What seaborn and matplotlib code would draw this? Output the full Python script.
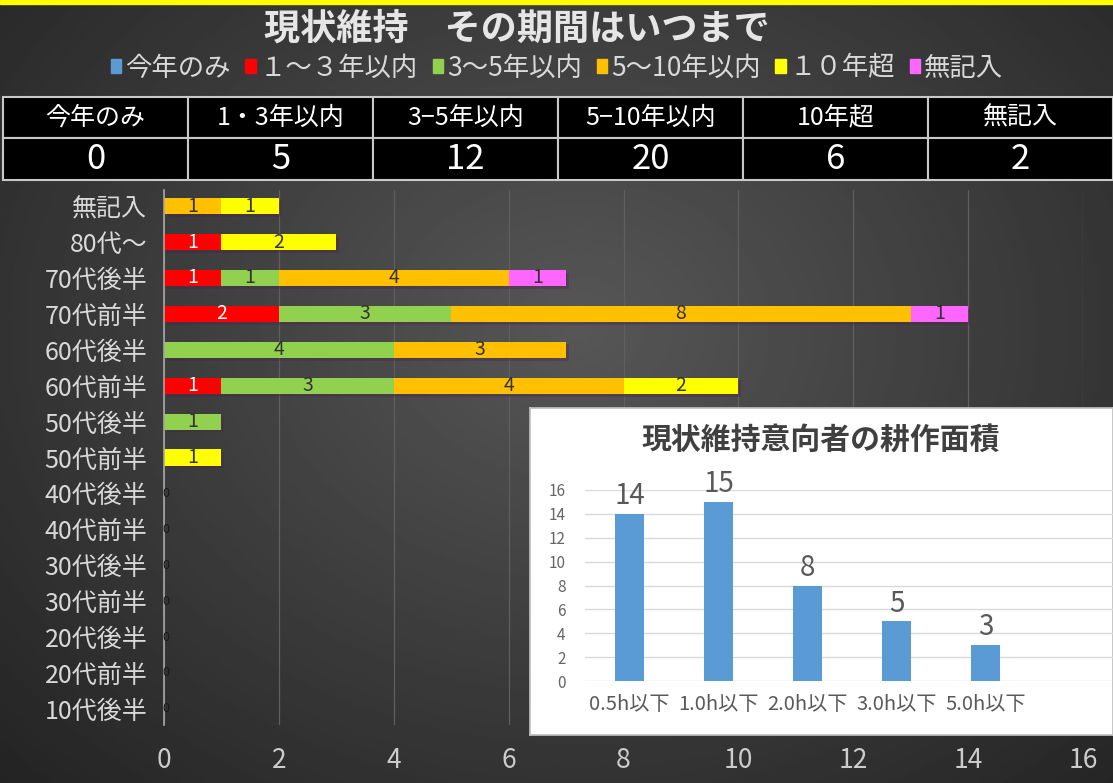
import numpy as np
import pandas as pd
import matplotlib
matplotlib.use("Agg")
import matplotlib.pyplot as plt
import matplotlib.patheffects as pe
from matplotlib.patches import Rectangle
import seaborn as sns

sns.set_theme(style="dark")
plt.rcParams['font.family'] = ['Noto Sans CJK JP', 'DejaVu Sans']

# ── Data ──────────────────────────────────────────────────────
ages = ["無記入", "80代～", "70代後半", "70代前半", "60代後半", "60代前半",
        "50代後半", "50代前半", "40代後半", "40代前半", "30代後半", "30代前半",
        "20代後半", "20代前半", "10代後半"]
series_names = ["今年のみ", "１～３年以内", "3～5年以内", "5～10年以内", "１０年超", "無記入"]
this_year = [0, 0, 0, 0, 0, 0, 0, 0, 0, 0, 0, 0, 0, 0, 0]
within_1_3 = [0, 1, 1, 2, 0, 1, 0, 0, 0, 0, 0, 0, 0, 0, 0]
within_3_5 = [0, 0, 1, 3, 4, 3, 1, 0, 0, 0, 0, 0, 0, 0, 0]
within_5_10 = [1, 0, 4, 8, 3, 4, 0, 0, 0, 0, 0, 0, 0, 0, 0]
over_10 = [1, 2, 0, 0, 0, 2, 0, 1, 0, 0, 0, 0, 0, 0, 0]
no_answer = [0, 0, 1, 1, 0, 0, 0, 0, 0, 0, 0, 0, 0, 0, 0]
series_colors = ["#5B9BD5", "#FF0000", "#92D050", "#FFC000", "#FFFF00", "#FF66FF"]

table_heads = ["今年のみ", "1・3年以内", "3−5年以内", "5−10年以内", "10年超", "無記入"]
table_vals = ["0", "5", "12", "20", "6", "2"]

area_labels = ["0.5h以下", "1.0h以下", "2.0h以下", "3.0h以下", "5.0h以下"]
area_counts = [14, 15, 8, 5, 3]

W, H = 1113, 783
fig = plt.figure(figsize=(W / 100, H / 100), dpi=100)

# ── Background gradient ───────────────────────────────────────
bg = fig.add_axes([0, 0, 1, 1], zorder=-10)
yy, xx = np.mgrid[0:1:300j, 0:1:400j]
r = np.sqrt(((xx - 0.52) / 0.62) ** 2 + ((yy - 0.42) / 0.7) ** 2)
shade = np.clip(0.34 - 0.17 * r, 0.13, 1)
bg.imshow(shade, cmap="gray", vmin=0, vmax=1, aspect="auto", extent=[0, 1, 0, 1])
bg.set_axis_off()
fig.patches.append(Rectangle((0, 1 - 4 / H), 1, 4 / H, transform=fig.transFigure,
                             color="#FFFF00", zorder=20))

# ── Main stacked bar chart ────────────────────────────────────
df = pd.DataFrame({"age": ages})
cols = [this_year, within_1_3, within_3_5, within_5_10, over_10, no_answer]
cum = np.cumsum(np.array(cols), axis=0)
for i, name in enumerate(series_names):
    df[name] = cum[i]

ax = fig.add_axes([164 / W, 1 - 725 / H, (1083 - 164) / W, (725 - 190) / H])
ax.set_facecolor("none")
# cumulative totals drawn longest first, so shorter segments sit on top
for i in reversed(range(len(series_names))):
    sns.barplot(data=df, y="age", x=series_names[i], color=series_colors[i],
                saturation=1, width=0.45, linewidth=0, orient="h", ax=ax)
    if i == len(series_names) - 1:
        for p in ax.patches:
            p.set_path_effects([pe.SimplePatchShadow(offset=(2, -2), alpha=0.35),
                                pe.Normal()])

for row in range(len(ages)):
    total = cum[-1][row]
    if total == 0:
        ax.text(0.04, row, "0", ha="center", va="center", fontsize=9, color="#1a1a1a")
        continue
    for i in range(len(series_names)):
        v = cols[i][row]
        if v > 0:
            ax.text(cum[i][row] - v / 2, row, str(v), ha="center", va="center",
                    fontsize=14, color="white" if i == 1 else "#333333")

ax.set_xlim(0, 16)
ax.set_ylim(14.45, -0.45)
ax.set_xticks(range(0, 17, 2))
ax.set_xlabel("")
ax.set_ylabel("")
ax.xaxis.grid(True, color="#5f5f5f", linewidth=0.9)
ax.yaxis.grid(False)
for s in ["top", "right", "bottom"]:
    ax.spines[s].set_visible(False)
ax.spines["left"].set_color("#a6a6a6")
ax.spines["left"].set_linewidth(1.2)
ax.tick_params(axis="x", colors="#cccccc", labelsize=19, length=0, pad=16)
ax.tick_params(axis="y", colors="#d9d9d9", labelsize=18, length=0, pad=12)

# ── Title and legend ──────────────────────────────────────────
fig.text(517 / W, 1 - 29 / H, "現状維持　その期間はいつまで", ha="center", va="center",
         fontsize=26, fontweight="bold", color="#e6e6e6")
handles = [Rectangle((0, 0), 1, 1, color=c) for c in series_colors]
fig.legend(handles, series_names, loc="center", bbox_to_anchor=(557 / W, 1 - 68 / H),
           ncol=6, frameon=False, fontsize=19, labelcolor="#d9d9d9",
           handlelength=0.4, handleheight=0.4, handletextpad=0.15, columnspacing=0.55,
           borderpad=0)

# ── Summary table ─────────────────────────────────────────────
tax = fig.add_axes([3 / W, 1 - 180 / H, (W - 3) / W, 83 / H])
tax.set_axis_off()
tbl = tax.table(cellText=[table_vals], colLabels=table_heads, cellLoc="center",
                bbox=[0, 0, 1, 1])
tbl.auto_set_font_size(False)
for (rr, cc), cell in tbl.get_celld().items():
    cell.set_facecolor("black")
    cell.set_edgecolor("#c8c8c8")
    cell.set_linewidth(1.5)
    cell.get_text().set_color("white")
    cell.get_text().set_fontsize(18 if rr == 0 else 25)

# ── Inset: cultivated area ────────────────────────────────────
panel = fig.add_axes([530 / W, 1 - 735 / H, 583 / W, 327 / H], zorder=5)
panel.set_facecolor("white")
panel.set_xticks([])
panel.set_yticks([])
for s in panel.spines.values():
    s.set_color("#bfbfbf")

ins = fig.add_axes([585 / W, 1 - 681 / H, (W - 585) / W, 191 / H], zorder=6)
ins.set_facecolor("none")
sns.barplot(x=area_labels, y=area_counts, color="#5B9BD5", saturation=1,
            width=0.32, linewidth=0, ax=ins)
ins.bar_label(ins.containers[0], fontsize=20, color="#595959", padding=2)
ins.set_xlim(-0.5, 5.43)
ins.set_ylim(0, 16)
ins.set_yticks(range(0, 17, 2))
ins.yaxis.grid(True, color="#d9d9d9", linewidth=1)
ins.xaxis.grid(False)
for s in ins.spines.values():
    s.set_visible(False)
ins.tick_params(axis="y", colors="#666666", labelsize=11, length=0, pad=14)
ins.tick_params(axis="x", colors="#595959", labelsize=14.5, length=0, pad=9)
fig.text(821 / W, 1 - 440 / H, "現状維持意向者の耕作面積", ha="center", va="center",
         fontsize=21.5, fontweight="bold", color="#404040", zorder=7)

plt.savefig("out.png", dpi=100)
